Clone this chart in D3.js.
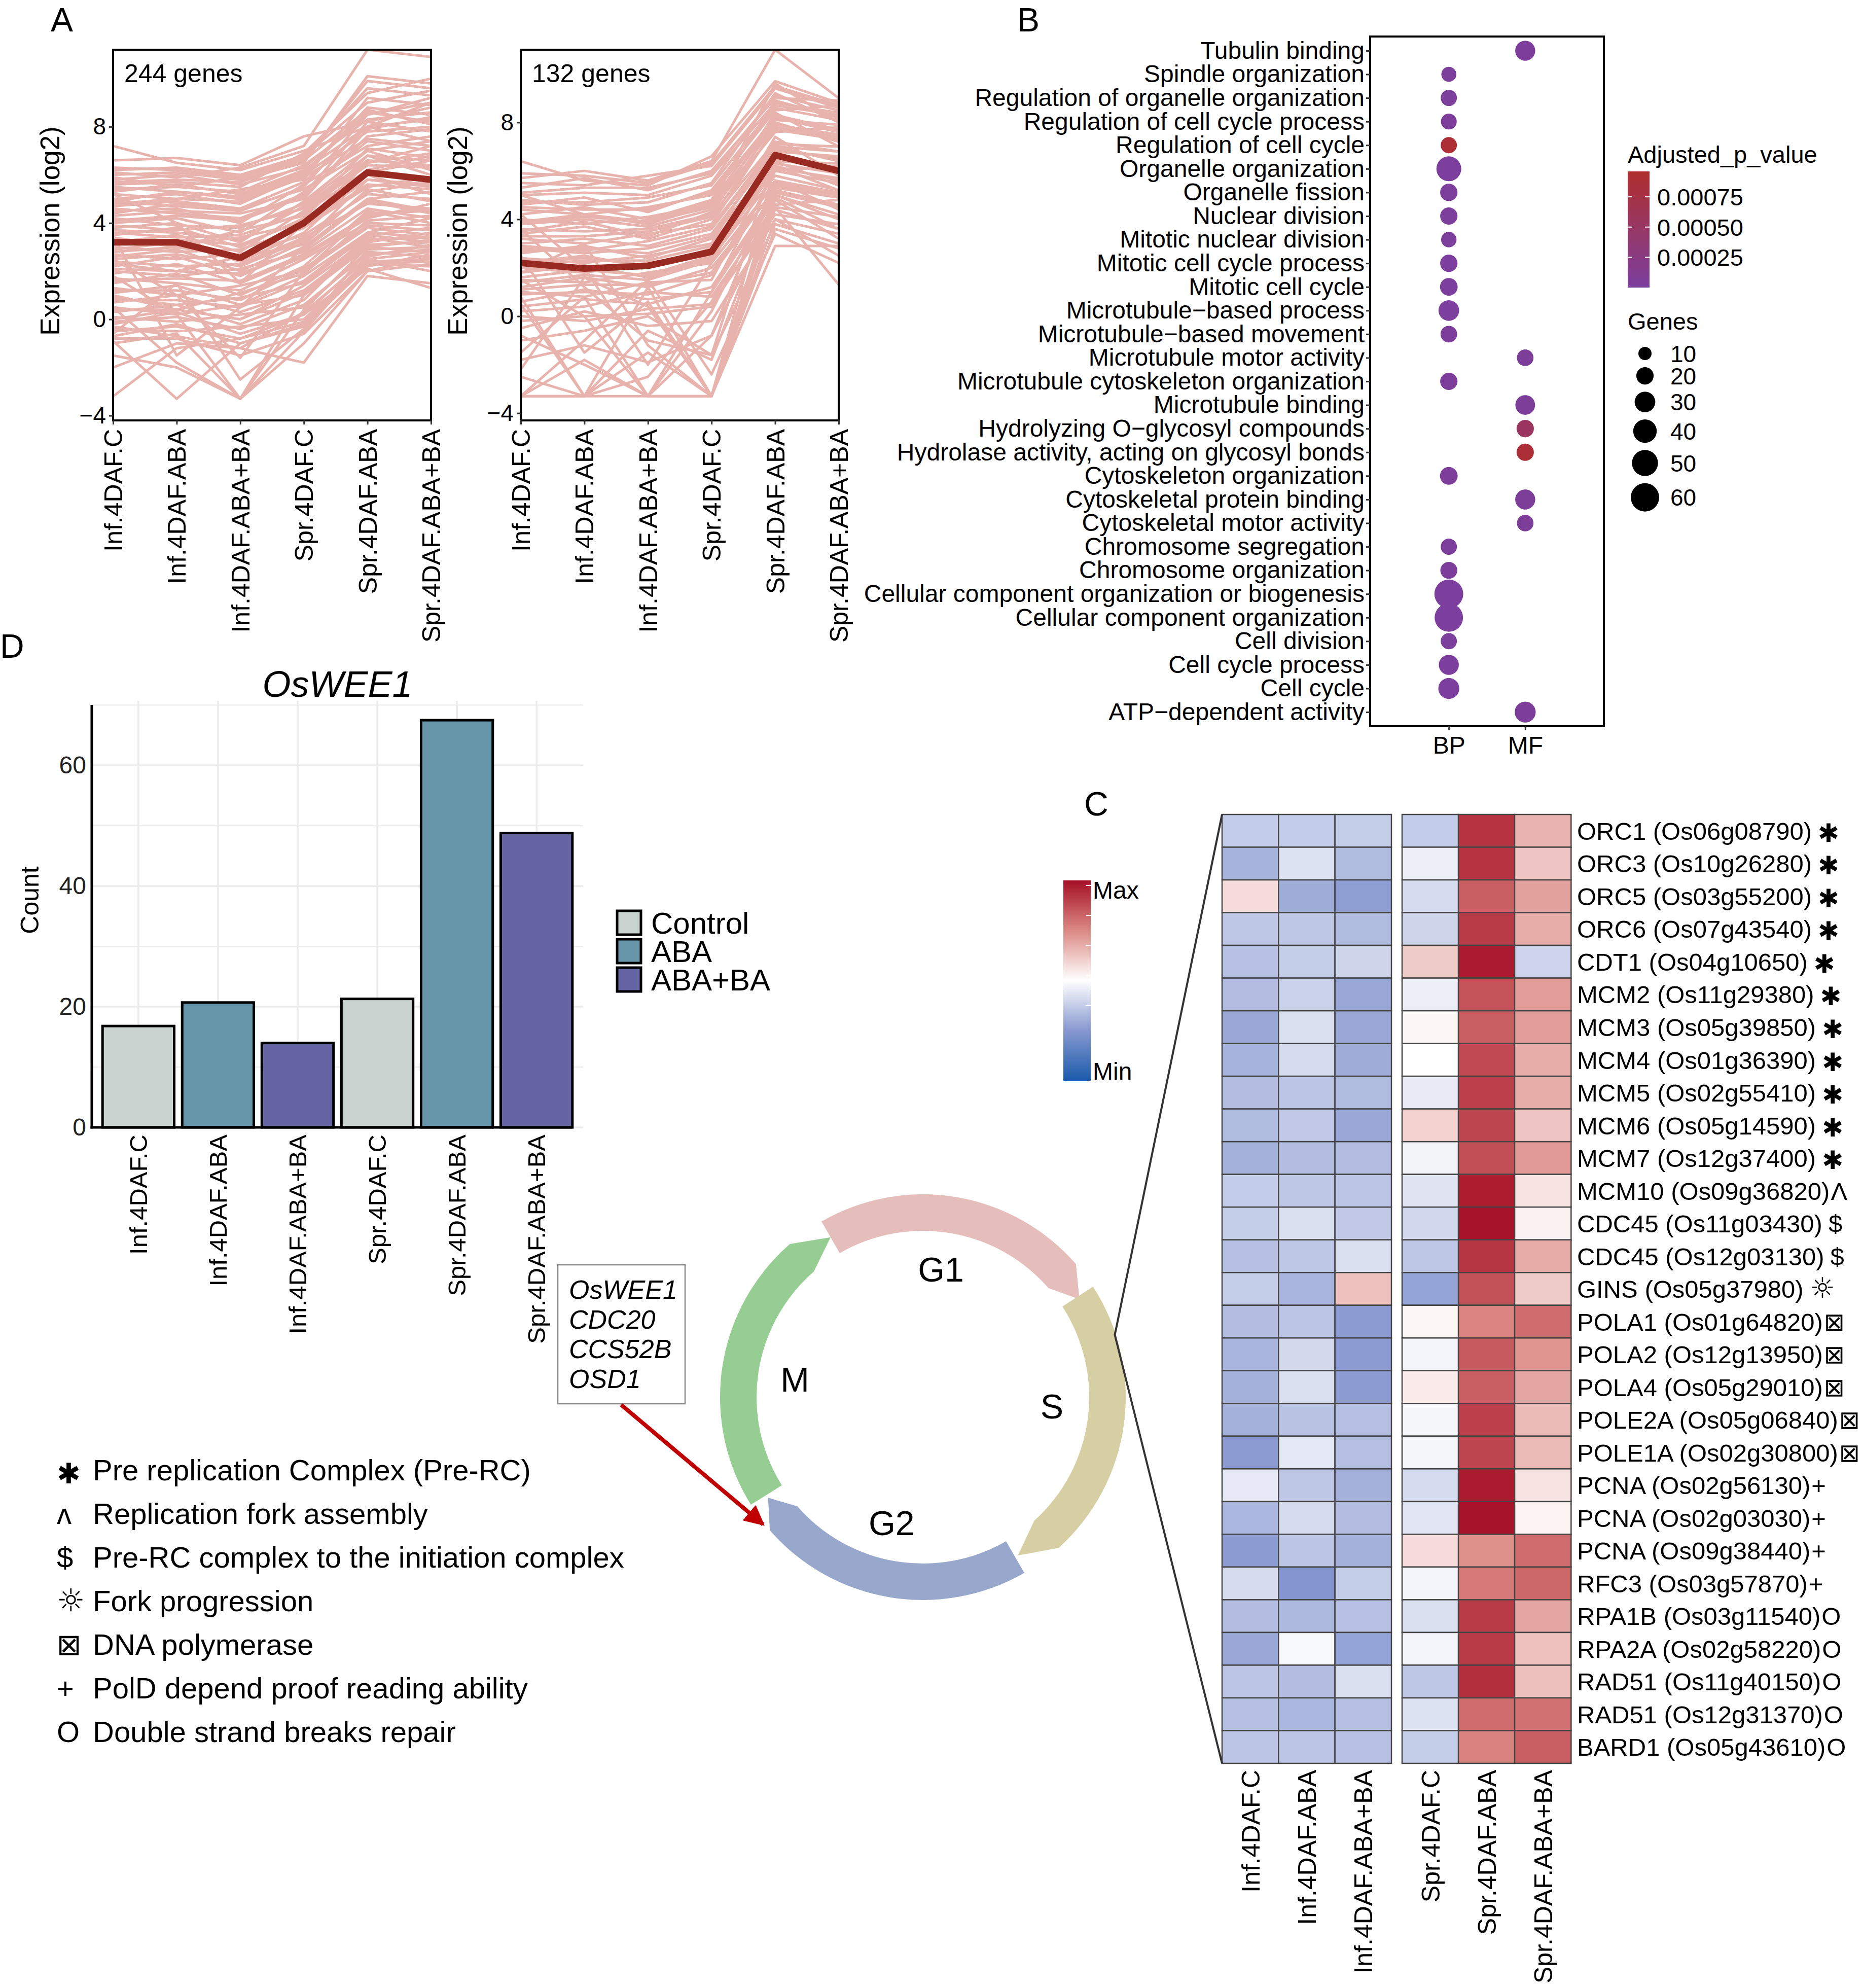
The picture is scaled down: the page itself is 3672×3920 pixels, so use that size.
<!DOCTYPE html>
<html>
<head>
<meta charset="utf-8">
<script src="https://cdn.jsdelivr.net/npm/d3@7"></script>
<style>
  body { margin: 0; background: #fff; }
  svg text { font-family: "Liberation Sans", Arial, sans-serif; }
</style>
</head>
<body>
<svg id="fig" width="3672" height="3920"></svg>
<script>
// ---------------- data ----------------
const conditions = ["Inf.4DAF.C", "Inf.4DAF.ABA", "Inf.4DAF.ABA+BA", "Spr.4DAF.C", "Spr.4DAF.ABA", "Spr.4DAF.ABA+BA"];

// panel A: expression profiles of two clusters (log2)
const cluster1Title = "244 genes";
const cluster1Mean = [3.2, 3.2, 2.55, 4.0, 6.1, 5.8];
const cluster1Lines = [
  [7.2, 6.5, 6.2, 7.0, 8.0, 9.0], [6.6, 6.7, 6.4, 7.6, 8.2, 8.8], [6.2, 6.3, 6.0, 6.8, 9.0, 9.5],
  [6.0, 6.1, 5.8, 6.5, 10.1, 9.8], [6.1, 5.9, 6.3, 7.2, 11.2, 10.9], [5.8, 6.0, 5.6, 6.3, 8.5, 9.2],
  [5.6, 5.7, 5.5, 6.9, 9.4, 10.0], [5.5, 5.3, 5.0, 6.0, 8.8, 8.5], [5.3, 5.6, 5.2, 6.2, 8.0, 8.3],
  [5.2, 5.0, 5.4, 5.8, 9.2, 8.9], [5.0, 5.2, 4.8, 6.0, 7.8, 8.0], [4.9, 4.7, 4.5, 5.5, 8.5, 9.0],
  [4.8, 5.0, 4.9, 5.9, 7.5, 7.2], [4.6, 4.4, 4.2, 5.2, 8.2, 7.8], [4.5, 4.6, 4.0, 5.6, 7.2, 7.6],
  [4.3, 4.5, 4.4, 5.0, 7.9, 8.4], [4.2, 3.9, 3.8, 4.8, 6.8, 6.6], [4.0, 4.2, 3.6, 5.3, 7.4, 7.0],
  [3.9, 3.7, 3.9, 4.6, 6.5, 7.2], [3.8, 4.0, 3.2, 4.9, 7.0, 6.2], [3.6, 3.4, 3.5, 4.4, 6.2, 6.8],
  [3.5, 3.8, 3.0, 4.2, 6.8, 6.0], [3.3, 3.1, 3.4, 4.0, 5.8, 5.5], [3.2, 3.5, 2.8, 4.5, 6.4, 6.3],
  [3.0, 2.8, 2.9, 3.8, 5.5, 5.9], [2.9, 3.2, 2.4, 3.6, 6.0, 5.2], [2.7, 2.5, 2.7, 3.5, 5.2, 5.0],
  [2.6, 2.9, 2.0, 3.2, 5.8, 5.6], [2.4, 2.2, 2.3, 3.4, 4.8, 4.6], [2.2, 2.6, 1.8, 3.0, 5.0, 5.3],
  [2.0, 1.8, 2.1, 2.8, 4.6, 4.2], [1.9, 2.3, 1.5, 2.6, 4.2, 4.8], [1.7, 1.5, 1.2, 2.5, 4.0, 3.9],
  [1.5, 1.9, 1.0, 2.2, 4.5, 4.0], [1.3, 1.0, 1.4, 2.0, 3.8, 3.5], [1.1, 1.4, 0.6, 1.8, 3.6, 4.2],
  [0.9, 0.6, 0.9, 1.5, 3.5, 3.2], [0.7, 1.0, 0.3, 1.2, 3.2, 3.6], [0.5, 0.2, 0.6, 1.0, 3.0, 2.8],
  [0.3, 0.6, -0.2, 0.8, 3.4, 3.0], [0.1, -0.1, 0.2, 0.5, 2.8, 2.6], [-0.2, 0.3, -0.6, 0.2, 2.6, 3.1],
  [-0.4, -0.5, -0.3, 0.0, 2.4, 2.5], [-0.7, -0.2, -1.0, -0.3, 2.2, 2.7], [-0.8, -0.8, -1.5, -0.6, 2.0, 2.3],
  [-1.0, -0.6, -3.3, -0.5, 2.5, 2.0], [-2.0, -1.0, -1.2, -1.8, 1.8, 1.5], [-3.2, -1.2, -0.8, 0.2, 2.1, 1.3],
  [-0.9, -3.3, -1.0, -0.2, 2.3, 2.2], [-1.5, -2.0, -3.3, -1.0, 2.0, 2.6], [0.5, -1.8, -3.3, 0.4, 3.0, 3.3],
  [1.8, 0.2, -3.3, 1.0, 3.5, 3.8], [2.5, 1.0, -1.6, 2.0, 4.4, 4.5], [-0.6, 1.5, -2.5, -0.4, 2.9, 3.0],
  [3.5, -1.5, 0.5, 3.0, 5.0, 4.5], [5.2, 4.0, 1.5, 4.0, 6.5, 6.9], [4.4, 4.8, 4.6, 5.4, 7.0, 7.4],
  [2.3, 2.0, 2.6, 3.1, 5.4, 4.9], [0.0, 0.4, 0.0, 1.4, 3.3, 3.4], [5.9, 5.5, 5.9, 6.6, 8.7, 8.1],
  [6.3, 6.2, 5.9, 6.7, 9.6, 9.3], [5.4, 5.5, 5.3, 6.4, 8.3, 8.6], [4.7, 4.9, 4.6, 5.7, 8.0, 7.4],
  [4.1, 4.3, 4.1, 5.1, 7.6, 7.9], [3.7, 3.6, 3.3, 4.7, 6.6, 6.4], [3.1, 3.3, 3.1, 4.1, 6.1, 6.6],
  [2.8, 3.0, 2.6, 3.9, 5.6, 5.4], [2.5, 2.7, 2.2, 3.3, 5.3, 5.7], [2.1, 2.0, 1.9, 2.9, 4.9, 4.4],
  [1.6, 1.7, 1.6, 2.7, 4.3, 4.6], [1.2, 1.2, 0.8, 2.1, 3.9, 3.7], [0.8, 0.8, 0.5, 1.6, 3.6, 3.4],
  [0.4, 0.4, 0.0, 1.1, 3.1, 3.2], [-0.1, 0.1, -0.4, 0.6, 2.7, 2.9], [-0.5, -0.3, -0.8, -0.1, 2.3, 2.4],
  [4.9, 5.3, 5.1, 6.1, 8.6, 8.2], [3.4, 3.0, 3.7, 4.3, 7.1, 6.7], [1.0, 0.4, 1.1, 1.9, 4.1, 4.3],
  [-0.3, -0.7, -1.2, 0.3, 2.5, 2.8], [5.7, 5.8, 5.7, 6.6, 9.9, 9.6]
];

const cluster2Title = "132 genes";
const cluster2Mean = [2.2, 1.97, 2.08, 2.66, 6.65, 6.0];
const cluster2Lines = [
  [6.4, 5.6, 5.4, 6.6, 9.7, 8.8], [5.7, 6.0, 5.6, 6.4, 11.0, 9.0], [5.5, 5.4, 5.8, 6.2, 9.4, 8.6],
  [5.3, 5.7, 5.2, 6.0, 9.0, 8.9], [5.0, 5.1, 5.0, 5.8, 8.8, 8.4], [4.8, 4.6, 4.7, 5.5, 9.2, 8.0],
  [4.6, 4.9, 4.3, 5.2, 8.5, 8.7], [4.4, 4.2, 4.5, 5.0, 8.2, 7.6], [4.2, 4.5, 4.0, 4.8, 8.9, 8.2],
  [4.0, 3.8, 4.1, 4.6, 8.0, 7.2], [3.8, 4.0, 3.7, 4.4, 7.6, 7.8], [3.6, 3.5, 3.6, 4.2, 8.4, 7.0],
  [3.4, 3.7, 3.2, 4.0, 7.2, 6.8], [3.2, 3.0, 3.4, 3.8, 7.8, 7.4], [3.0, 3.2, 2.9, 3.6, 7.0, 6.4],
  [2.8, 2.6, 2.8, 3.4, 6.8, 6.6], [2.6, 2.9, 2.4, 3.2, 6.5, 6.0], [2.4, 2.2, 2.5, 3.0, 7.4, 5.8],
  [2.2, 2.5, 2.0, 2.8, 6.2, 5.6], [2.0, 1.8, 2.2, 2.6, 6.0, 6.2], [1.8, 2.1, 1.6, 2.4, 5.8, 5.2],
  [1.5, 1.4, 1.8, 2.2, 5.5, 5.0], [1.2, 1.6, 1.2, 2.0, 5.2, 4.6], [1.0, 0.8, 1.4, 1.5, 6.4, 5.4],
  [0.6, 1.1, 0.7, 1.0, 5.0, 4.2], [0.2, 0.4, 1.0, 0.8, 4.6, 4.8], [0.0, -0.2, 0.3, 0.5, 4.2, 3.8],
  [-0.5, 0.2, -0.4, -0.2, 4.0, 3.4], [-1.0, -0.6, 0.0, -1.6, 3.8, 3.0], [-1.8, -1.2, -1.9, -0.8, 4.4, 3.6],
  [-3.3, -1.8, -3.3, -3.3, 3.6, 2.8], [-3.3, -3.3, -3.3, -3.3, 4.0, 2.5], [-3.3, -3.3, -1.5, -3.3, 2.9, 2.9],
  [-2.5, -3.3, -0.6, -1.8, 5.0, 4.0], [0.5, -3.3, 1.2, -3.3, 4.8, 3.2], [1.5, 0.0, -3.3, 1.0, 6.0, 5.5],
  [-1.5, 0.8, -3.3, -0.8, 5.6, 4.4], [2.5, -1.5, 0.6, -3.3, 4.5, 1.3], [-0.8, -2.0, -3.3, 0.2, 5.4, 5.0],
  [3.6, 1.2, -1.0, -1.6, 6.6, 6.0], [-2.2, 1.6, 0.4, -3.3, 5.2, 4.6], [4.2, 2.0, -2.0, 2.2, 7.0, 6.8],
  [0.8, -3.3, -2.5, 0.6, 4.9, 3.6], [1.8, 3.0, -1.2, -3.3, 6.2, 5.2], [5.0, 4.2, 3.8, 4.6, 9.6, 8.0],
  [-3.3, -1.0, 1.5, -2.4, 3.4, 2.2], [3.9, 4.1, 3.9, 4.5, 8.1, 7.9], [2.9, 2.7, 3.1, 3.7, 7.1, 7.0],
  [1.4, 1.7, 1.5, 2.3, 6.3, 5.9], [5.9, 5.8, 5.5, 6.3, 9.5, 8.7], [5.1, 5.3, 5.3, 5.9, 9.1, 8.5],
  [4.5, 4.4, 4.4, 5.1, 8.6, 8.1], [3.9, 4.2, 3.9, 4.7, 8.3, 7.7], [3.3, 3.3, 3.5, 4.1, 7.7, 7.3],
  [2.7, 2.8, 2.6, 3.3, 6.9, 6.5], [2.1, 2.3, 2.3, 2.9, 6.6, 6.1], [1.6, 1.9, 1.7, 2.5, 6.1, 5.7],
  [1.1, 1.3, 1.3, 1.8, 5.6, 5.1], [0.4, 0.7, 0.5, 1.2, 5.1, 4.5], [-0.2, 0.0, 0.1, 0.4, 4.5, 4.1],
  [4.7, 4.7, 4.9, 5.4, 8.7, 8.3], [3.5, 3.9, 3.3, 4.3, 7.9, 7.5], [2.3, 2.4, 2.1, 2.7, 6.4, 6.3],
  [0.9, 1.0, 0.9, 1.7, 5.3, 4.9]
];

// panel B: GO enrichment
const goTerms = [
  "Tubulin binding", "Spindle organization", "Regulation of organelle organization",
  "Regulation of cell cycle process", "Regulation of cell cycle", "Organelle organization",
  "Organelle fission", "Nuclear division", "Mitotic nuclear division", "Mitotic cell cycle process",
  "Mitotic cell cycle", "Microtubule\u2212based process", "Microtubule\u2212based movement",
  "Microtubule motor activity", "Microtubule cytoskeleton organization", "Microtubule binding",
  "Hydrolyzing O\u2212glycosyl compounds", "Hydrolase activity, acting on glycosyl bonds",
  "Cytoskeleton organization", "Cytoskeletal protein binding", "Cytoskeletal motor activity",
  "Chromosome segregation", "Chromosome organization", "Cellular component organization or biogenesis",
  "Cellular component organization", "Cell division", "Cell cycle process", "Cell cycle",
  "ATP\u2212dependent activity"
];
const goOntology = ["MF", "BP", "BP", "BP", "BP", "BP", "BP", "BP", "BP", "BP", "BP", "BP", "BP", "MF", "BP",
  "MF", "MF", "MF", "BP", "MF", "MF", "BP", "BP", "BP", "BP", "BP", "BP", "BP", "MF"];
const goGenes = [28, 14, 17, 16, 17, 45, 20, 20, 15, 20, 21, 30, 18, 18, 20, 27, 20, 20, 21, 28, 18, 17, 19, 62, 60, 17, 28, 31, 31];
const goPadj = [0.00003, 0.00002, 0.00002, 0.00003, 0.0009, 0.00001, 0.00002, 0.00002, 0.00002, 0.00001, 0.00001,
  0.00001, 0.00003, 0.00004, 0.00003, 0.00004, 0.00055, 0.00088, 0.00003, 0.00004, 0.00004, 0.00002,
  0.00003, 0.00001, 0.00001, 0.00002, 0.00001, 0.00001, 0.00003];
const goCategories = ["BP", "MF"];
const pLegendTicks = [0.00025, 0.0005, 0.00075];
const geneLegendTicks = [10, 20, 30, 40, 50, 60];

// panel C: heatmap of replication genes (scaled, -1 = Min, 1 = Max)
const heatGenes = [
  "ORC1 (Os06g08790)", "ORC3 (Os10g26280)", "ORC5 (Os03g55200)", "ORC6 (Os07g43540)", "CDT1 (Os04g10650)",
  "MCM2 (Os11g29380)", "MCM3 (Os05g39850)", "MCM4 (Os01g36390)", "MCM5 (Os02g55410)", "MCM6 (Os05g14590)",
  "MCM7 (Os12g37400)", "MCM10 (Os09g36820)", "CDC45 (Os11g03430)", "CDC45 (Os12g03130)", "GINS (Os05g37980)",
  "POLA1 (Os01g64820)", "POLA2 (Os12g13950)", "POLA4 (Os05g29010)", "POLE2A (Os05g06840)", "POLE1A (Os02g30800)",
  "PCNA (Os02g56130)", "PCNA (Os02g03030)", "PCNA (Os09g38440)", "RFC3 (Os03g57870)", "RPA1B (Os03g11540)",
  "RPA2A (Os02g58220)", "RAD51 (Os11g40150)", "RAD51 (Os12g31370)", "BARD1 (Os05g43610)"
];
const heatMarks = ["\u2731", "\u2731", "\u2731", "\u2731", "\u2731", "\u2731", "\u2731", "\u2731", "\u2731", "\u2731", "\u2731",
  "\u039b", "$", "$", "\u263c", "\u22a0", "\u22a0", "\u22a0", "\u22a0", "\u22a0", "+", "+", "+", "+", "O", "O", "O", "O", "O"];
const heatValues = [
  [-0.25, -0.25, -0.24, -0.25, 0.85, 0.32], [-0.37, -0.14, -0.33, -0.08, 0.85, 0.25],
  [0.15, -0.40, -0.47, -0.17, 0.68, 0.40], [-0.27, -0.27, -0.33, -0.20, 0.82, 0.35],
  [-0.30, -0.24, -0.20, 0.22, 0.95, -0.21], [-0.32, -0.22, -0.42, -0.08, 0.72, 0.42],
  [-0.42, -0.15, -0.42, 0.04, 0.68, 0.42], [-0.37, -0.17, -0.40, 0.00, 0.76, 0.35],
  [-0.32, -0.28, -0.33, -0.09, 0.80, 0.35], [-0.33, -0.26, -0.42, 0.19, 0.78, 0.25],
  [-0.38, -0.32, -0.32, -0.06, 0.74, 0.43], [-0.25, -0.27, -0.28, -0.13, 0.94, 0.12],
  [-0.24, -0.15, -0.26, -0.19, 0.98, 0.06], [-0.31, -0.27, -0.15, -0.27, 0.84, 0.36],
  [-0.24, -0.36, 0.26, -0.44, 0.73, 0.22], [-0.32, -0.28, -0.48, 0.04, 0.52, 0.62],
  [-0.36, -0.18, -0.48, -0.05, 0.70, 0.45], [-0.38, -0.15, -0.48, 0.08, 0.68, 0.38],
  [-0.38, -0.29, -0.31, -0.04, 0.80, 0.29], [-0.48, -0.11, -0.31, -0.04, 0.78, 0.29],
  [-0.10, -0.27, -0.38, -0.17, 0.95, 0.12], [-0.35, -0.17, -0.32, -0.12, 0.98, 0.05],
  [-0.48, -0.28, -0.38, 0.15, 0.48, 0.62], [-0.17, -0.52, -0.24, -0.05, 0.57, 0.64],
  [-0.32, -0.34, -0.30, -0.15, 0.82, 0.38], [-0.42, -0.03, -0.44, -0.05, 0.82, 0.26],
  [-0.28, -0.32, -0.15, -0.27, 0.87, 0.27], [-0.31, -0.35, -0.31, -0.14, 0.62, 0.60],
  [-0.28, -0.28, -0.30, -0.24, 0.53, 0.68]
];

// panel D: OsWEE1 counts
const weeTitle = "OsWEE1";
const weeCounts = [16.8, 20.7, 14.0, 21.3, 67.5, 48.8];
const weeTreatment = ["Control", "ABA", "ABA+BA", "Control", "ABA", "ABA+BA"];
const treatments = ["Control", "ABA", "ABA+BA"];
const weeTicks = [0, 20, 40, 60];

// cell cycle diagram (angles in degrees, clockwise from top)
const phases = ["G1", "S", "G2", "M"];
const phaseStart = [-30, 57, 150, 238];
const phaseEnd = [49, 138, 229, 319];
const phaseTip = [58, 149, 237, 330];
const boxGenes = ["OsWEE1", "CDC20", "CCS52B", "OSD1"];

// symbol key
const keyMarks = ["\u2731", "\u028c", "$", "\u263c", "\u22a0", "+", "O"];
const keyText = ["Pre replication Complex (Pre-RC)", "Replication fork assembly",
  "Pre-RC complex to the initiation complex", "Fork progression", "DNA polymerase",
  "PolD depend proof reading ability", "Double strand breaks repair"];

// ---------------- drawing ----------------
const svg = d3.select("#fig");
svg.append("rect").attr("width", 3672).attr("height", 3920).attr("fill", "#fff");
const defs = svg.append("defs");
const dejavuMarks = ["\u263c", "\u22a0", "\u2731"];

function panelLabel(txt, x, y) {
  svg.append("text").attr("x", x).attr("y", y).attr("font-size", 66).text(txt);
}

function rotateXLabels(axisG, gap, size) {
  axisG.attr("font-size", size).attr("fill", "#000");
  axisG.selectAll("text")
    .attr("fill", "#000")
    .attr("transform", "rotate(-90)")
    .attr("text-anchor", "end")
    .attr("x", -gap).attr("y", 0).attr("dy", "0.35em");
}

// --- A: profile panels ---
function drawProfile(id, x0, x1, y0, y1, yDomain, lines, mean, title) {
  const g = svg.append("g");
  const x = d3.scalePoint().domain(conditions).range([x0, x1]);
  const y = d3.scaleLinear().domain(yDomain).range([y1, y0]);
  defs.append("clipPath").attr("id", id).append("rect")
    .attr("x", x0).attr("y", y0).attr("width", x1 - x0).attr("height", y1 - y0);
  const line = d3.line().x((d, i) => x(conditions[i])).y(d => y(d));
  const inner = g.append("g").attr("clip-path", `url(#${id})`);
  inner.selectAll(".gene").data(lines).enter().append("path")
    .attr("d", line).attr("fill", "none")
    .attr("stroke", "#E8B3AD").attr("stroke-width", 5).attr("stroke-linejoin", "round");
  inner.append("path").datum(mean).attr("d", line).attr("fill", "none")
    .attr("stroke", "#992A22").attr("stroke-width", 13).attr("stroke-linejoin", "round");
  g.append("rect").attr("x", x0).attr("y", y0).attr("width", x1 - x0).attr("height", y1 - y0)
    .attr("fill", "none").attr("stroke", "#000").attr("stroke-width", 4);

  const ya = g.append("g").attr("transform", `translate(${x0},0)`)
    .call(d3.axisLeft(y).tickValues([-4, 0, 4, 8]).tickSize(8).tickPadding(6).tickFormat(d => d < 0 ? "\u2212" + Math.abs(d) : d));
  ya.select(".domain").remove();
  ya.attr("font-size", 46);
  ya.selectAll("text").attr("fill", "#000");
  ya.selectAll("line").attr("stroke", "#333").attr("stroke-width", 3);

  const xa = g.append("g").attr("transform", `translate(0,${y1})`)
    .call(d3.axisBottom(x).tickSize(8));
  xa.select(".domain").remove();
  xa.selectAll("line").attr("stroke", "#333").attr("stroke-width", 3);
  rotateXLabels(xa, 17, 50);

  g.append("text").attr("transform", `translate(${x0 - 106},${(y0 + y1) / 2 - 8}) rotate(-90)`)
    .attr("text-anchor", "middle").attr("font-size", 53).text("Expression (log2)");
  g.append("text").attr("x", x0 + 22).attr("y", y0 + 64).attr("font-size", 50).text(title);
}
drawProfile("clipA1", 223, 850, 98, 829, [-4.2, 11.2], cluster1Lines, cluster1Mean, cluster1Title);
drawProfile("clipA2", 1027, 1654, 98, 829, [-4.3, 11.0], cluster2Lines, cluster2Mean, cluster2Title);
panelLabel("A", 100, 62);

// --- B: GO dot plot ---
(function () {
  const g = svg.append("g");
  const bx0 = 2702, bx1 = 3163, by0 = 72, by1 = 1432;
  const y = d3.scalePoint().domain(goTerms).range([by0, by1]).padding(0.6);
  const x = d3.scalePoint().domain(goCategories).range([bx0, bx1]).padding(1.03);
  const area = d3.scaleLinear().domain([10, 60]).range([169, 784]);
  const color = d3.scaleLinear().domain([0, 0.00096]).range(["#7B3F9E", "#B02E2E"]);

  g.selectAll(".dot").data(goTerms).enter().append("circle")
    .attr("cx", (d, i) => x(goOntology[i]))
    .attr("cy", d => y(d))
    .attr("r", (d, i) => Math.sqrt(area(goGenes[i])))
    .attr("fill", (d, i) => color(goPadj[i]));
  g.append("rect").attr("x", bx0).attr("y", by0).attr("width", bx1 - bx0).attr("height", by1 - by0)
    .attr("fill", "none").attr("stroke", "#000").attr("stroke-width", 4);

  const ya = g.append("g").attr("transform", `translate(${bx0},0)`)
    .call(d3.axisLeft(y).tickSize(8).tickPadding(3));
  ya.select(".domain").remove();
  ya.attr("font-size", 48);
  ya.selectAll("text").attr("fill", "#000");
  ya.selectAll("line").attr("stroke", "#333").attr("stroke-width", 3);

  const xa = g.append("g").attr("transform", `translate(0,${by1})`)
    .call(d3.axisBottom(x).tickSize(8).tickPadding(10));
  xa.select(".domain").remove();
  xa.attr("font-size", 48);
  xa.selectAll("text").attr("fill", "#000").attr("dy", "0.75em");
  xa.selectAll("line").attr("stroke", "#333").attr("stroke-width", 3);

  // colour legend
  const lx = 3210, ly0 = 338, ly1 = 567;
  const grad = defs.append("linearGradient").attr("id", "pgrad")
    .attr("x1", 0).attr("y1", 1).attr("x2", 0).attr("y2", 0);
  grad.append("stop").attr("offset", 0).attr("stop-color", color(0));
  grad.append("stop").attr("offset", 1).attr("stop-color", color(0.00096));
  g.append("text").attr("x", lx).attr("y", 321).attr("font-size", 47).text("Adjusted_p_value");
  g.append("rect").attr("x", lx).attr("y", ly0).attr("width", 43).attr("height", ly1 - ly0).attr("fill", "url(#pgrad)");
  const py = d3.scaleLinear().domain([0, 0.00096]).range([ly1, ly0]);
  pLegendTicks.forEach(v => {
    g.append("line").attr("x1", lx).attr("x2", lx + 9).attr("y1", py(v)).attr("y2", py(v)).attr("stroke", "#fff").attr("stroke-width", 2);
    g.append("line").attr("x1", lx + 34).attr("x2", lx + 43).attr("y1", py(v)).attr("y2", py(v)).attr("stroke", "#fff").attr("stroke-width", 2);
    g.append("text").attr("x", lx + 58).attr("y", py(v)).attr("dy", "0.36em").attr("font-size", 47).text(v.toFixed(5));
  });

  // size legend
  g.append("text").attr("x", lx).attr("y", 650).attr("font-size", 47).text("Genes");
  let cy = 697;
  geneLegendTicks.forEach((v, i) => {
    const r = Math.sqrt(area(v));
    if (i > 0) cy += Math.sqrt(area(geneLegendTicks[i - 1])) + r + 14;
    g.append("circle").attr("cx", 3244).attr("cy", cy).attr("r", r).attr("fill", "#000");
    g.append("text").attr("x", 3294).attr("y", cy).attr("dy", "0.36em").attr("font-size", 46).text(v);
  });
})();
panelLabel("B", 2006, 62);

// --- C: heatmap ---
const heatColor = d3.scaleLinear().domain([-1, -0.5, 0, 0.5, 1])
  .range(["#1A5BAB", "#8798D0", "#FFFFFF", "#DC8A84", "#A50F25"]);
const hyTop = 1606, hyBot = 3477, hxLeft = 2410;
(function () {
  const g = svg.append("g");
  const xInf = d3.scaleBand().domain(conditions.slice(0, 3)).range([hxLeft, 2744]);
  const xSpr = d3.scaleBand().domain(conditions.slice(3)).range([2765, 3098]);
  const xPos = c => conditions.indexOf(c) < 3 ? xInf(c) : xSpr(c);
  const y = d3.scaleBand().domain(heatGenes).range([hyTop, hyBot]);

  const cells = [];
  heatValues.forEach((row, r) => row.forEach((v, c) => cells.push({ gene: heatGenes[r], cond: conditions[c], v })));
  g.selectAll(".cell").data(cells).enter().append("rect")
    .attr("x", d => xPos(d.cond)).attr("y", d => y(d.gene))
    .attr("width", xInf.bandwidth()).attr("height", y.bandwidth())
    .attr("fill", d => heatColor(d.v))
    .attr("stroke", "#444").attr("stroke-width", 2.5);

  const labels = g.selectAll(".glab").data(heatGenes).enter().append("text")
    .attr("x", 3110).attr("y", d => y(d) + y.bandwidth() / 2).attr("dy", "0.36em")
    .attr("font-size", 49);
  labels.append("tspan").text(d => d);
  labels.append("tspan")
    .text((d, i) => heatMarks[i])
    .attr("dx", (d, i) => ["\u2731", "$", "\u263c"].includes(heatMarks[i]) ? 12 : 2)
    .attr("font-size", (d, i) => heatMarks[i] === "\u2731" ? 50 : heatMarks[i] === "\u263c" ? 56 : 49)
    .attr("dy", (d, i) => heatMarks[i] === "\u2731" ? "0.08em" : 0)
    .style("font-family", (d, i) => dejavuMarks.includes(heatMarks[i]) ? "DejaVu Sans" : null);

  conditions.forEach(c => {
    g.append("text").attr("transform", `translate(${xPos(c) + xInf.bandwidth() / 2},${hyBot + 13}) rotate(-90)`)
      .attr("text-anchor", "end").attr("dy", "0.36em").attr("font-size", 50).text(c);
  });

  // colour key
  const kx = 2097, ky0 = 1736, ky1 = 2131;
  const grad = defs.append("linearGradient").attr("id", "hgrad")
    .attr("x1", 0).attr("y1", 0).attr("x2", 0).attr("y2", 1);
  d3.range(0, 1.0001, 0.05).forEach(t => {
    grad.append("stop").attr("offset", t).attr("stop-color", heatColor(1 - 2 * t));
  });
  g.append("rect").attr("x", kx).attr("y", ky0).attr("width", 54).attr("height", ky1 - ky0).attr("fill", "url(#hgrad)");
  const ky = d3.scaleLinear().domain([1, -1]).range([ky0, ky1]);
  [0.95, 0.65, 0.35, 0.05, -0.25].forEach(v => {
    g.append("line").attr("x1", kx + 44).attr("x2", kx + 54).attr("y1", ky(v)).attr("y2", ky(v))
      .attr("stroke", "#fff").attr("stroke-width", 2);
  });
  g.append("text").attr("x", kx + 58).attr("y", ky0 + 36).attr("font-size", 48).text("Max");
  g.append("text").attr("x", kx + 58).attr("y", ky1 - 2).attr("font-size", 48).text("Min");
})();
panelLabel("C", 2138, 1608);

// --- D: OsWEE1 bars ---
(function () {
  const g = svg.append("g");
  const px0 = 181, px1 = 1150, py0 = 1382, py1 = 2223;
  const x = d3.scaleBand().domain(conditions).range([px0, px1]).paddingInner(0.1).paddingOuter(0.135);
  const y = d3.scaleLinear().domain([0, 70.7]).range([py1, py0]);
  const fill = d3.scaleOrdinal().domain(treatments).range(["#C9D3CF", "#6694A8", "#6565A3"]);

  [10, 30, 50, 70].forEach(v => g.append("line").attr("x1", px0).attr("x2", px1).attr("y1", y(v)).attr("y2", y(v))
    .attr("stroke", "#EBEBEB").attr("stroke-width", 2));
  weeTicks.forEach(v => g.append("line").attr("x1", px0).attr("x2", px1).attr("y1", y(v)).attr("y2", y(v))
    .attr("stroke", "#EBEBEB").attr("stroke-width", 3.5));
  conditions.forEach(c => g.append("line").attr("x1", x(c) + x.bandwidth() / 2).attr("x2", x(c) + x.bandwidth() / 2)
    .attr("y1", py0).attr("y2", py1).attr("stroke", "#EBEBEB").attr("stroke-width", 3.5));

  g.selectAll(".bar").data(weeCounts).enter().append("rect")
    .attr("x", (d, i) => x(conditions[i])).attr("width", x.bandwidth())
    .attr("y", d => y(d)).attr("height", d => py1 - y(d))
    .attr("fill", (d, i) => fill(weeTreatment[i]))
    .attr("stroke", "#000").attr("stroke-width", 5);

  g.append("line").attr("x1", px0).attr("x2", px0).attr("y1", py0 + 8).attr("y2", py1 + 2.5).attr("stroke", "#000").attr("stroke-width", 5);
  g.append("line").attr("x1", px0 - 2.5).attr("x2", x(conditions[5]) + x.bandwidth()).attr("y1", py1).attr("y2", py1).attr("stroke", "#000").attr("stroke-width", 5);

  const ya = g.append("g").attr("transform", `translate(${px0},0)`)
    .call(d3.axisLeft(y).tickValues(weeTicks).tickSize(0).tickPadding(11));
  ya.select(".domain").remove();
  ya.attr("font-size", 48);
  ya.selectAll("text").attr("fill", "#222");

  const xa = g.append("g").attr("transform", `translate(0,${py1})`)
    .call(d3.axisBottom(x).tickSize(0));
  xa.select(".domain").remove();
  rotateXLabels(xa, 14, 49);

  g.append("text").attr("transform", `translate(58,1775) rotate(-90)`)
    .attr("text-anchor", "middle").attr("dy", "0.36em").attr("font-size", 50).text("Count");
  g.append("text").attr("x", (px0 + px1) / 2).attr("y", 1374).attr("text-anchor", "middle")
    .attr("font-size", 72).attr("font-style", "italic").text(weeTitle);

  treatments.forEach((t, i) => {
    g.append("rect").attr("x", 1217).attr("y", 1796 + i * 56).attr("width", 47).attr("height", 47)
      .attr("fill", fill(t)).attr("stroke", "#000").attr("stroke-width", 5);
    g.append("text").attr("x", 1284).attr("y", 1819 + i * 56).attr("dy", "0.36em").attr("font-size", 60).text(t);
  });
})();
panelLabel("D", 0, 1297);

// --- cell cycle diagram ---
const cc = { x: 1820, y: 2755, rOut: 400, rIn: 328 };
const phaseColors = ["#E5BDBA", "#D6CFA3", "#98A7CC", "#96CD93"];
const phaseLabelAngle = [8, 94, 194, 278];
(function () {
  const g = svg.append("g");
  const rad = a => (a - 90) * Math.PI / 180;
  const pt = (a, r) => [cc.x + r * Math.cos(rad(a)), cc.y + r * Math.sin(rad(a))];
  const rMid = (cc.rOut + cc.rIn) / 2;
  phases.forEach((ph, i) => {
    const p = d3.path();
    const s = pt(phaseStart[i], cc.rOut);
    p.moveTo(s[0], s[1]);
    p.arc(cc.x, cc.y, cc.rOut, rad(phaseStart[i]), rad(phaseEnd[i]), false);
    const t = pt(phaseTip[i], rMid);
    p.lineTo(t[0], t[1]);
    const e = pt(phaseEnd[i], cc.rIn);
    p.lineTo(e[0], e[1]);
    p.arc(cc.x, cc.y, cc.rIn, rad(phaseEnd[i]), rad(phaseStart[i]), true);
    p.closePath();
    g.append("path").attr("d", p.toString()).attr("fill", phaseColors[i]);
    const l = pt(phaseLabelAngle[i], 255);
    g.append("text").attr("x", l[0]).attr("y", l[1]).attr("dy", "0.36em").attr("text-anchor", "middle")
      .attr("font-size", 68).text(ph);
  });

  // bracket to heatmap (from S phase)
  const b = pt(72, cc.rOut - 2);
  g.append("path").attr("d", `M${hxLeft},${hyTop}L${b[0]},${b[1]}L${hxLeft},${hyBot}`)
    .attr("fill", "none").attr("stroke", "#333").attr("stroke-width", 4);

  // gene box
  g.append("rect").attr("x", 1100).attr("y", 2494).attr("width", 251).attr("height", 274)
    .attr("fill", "#fff").attr("stroke", "#888").attr("stroke-width", 2.5);
  boxGenes.forEach((gn, i) => {
    g.append("text").attr("x", 1122).attr("y", 2561 + i * 58.5).attr("font-size", 52)
      .attr("font-style", "italic").text(gn);
  });

  // red arrow to G2
  defs.append("marker").attr("id", "redhead").attr("viewBox", "0 0 10 10")
    .attr("refX", 9).attr("refY", 5).attr("markerWidth", 5).attr("markerHeight", 5)
    .attr("markerUnits", "strokeWidth").attr("orient", "auto")
    .append("path").attr("d", "M0,0L10,5L0,10Z").attr("fill", "#C00000");
  g.append("line").attr("x1", 1225).attr("y1", 2770).attr("x2", 1505).attr("y2", 3006)
    .attr("stroke", "#C00000").attr("stroke-width", 8).attr("marker-end", "url(#redhead)");
})();

// --- symbol key ---
(function () {
  const g = svg.append("g");
  keyText.forEach((t, i) => {
    const yy = 2919 + i * 86;
    const m = keyMarks[i];
    g.append("text").attr("x", 112).attr("y", m === "\u2731" ? yy + 6 : yy)
      .attr("font-size", m === "\u2731" ? 56 : m === "\u263c" ? 62 : 58)
      .style("font-family", dejavuMarks.includes(m) ? "DejaVu Sans" : null)
      .text(m);
    g.append("text").attr("x", 183).attr("y", yy).attr("font-size", 58).text(t);
  });
})();
</script>
</body>
</html>
